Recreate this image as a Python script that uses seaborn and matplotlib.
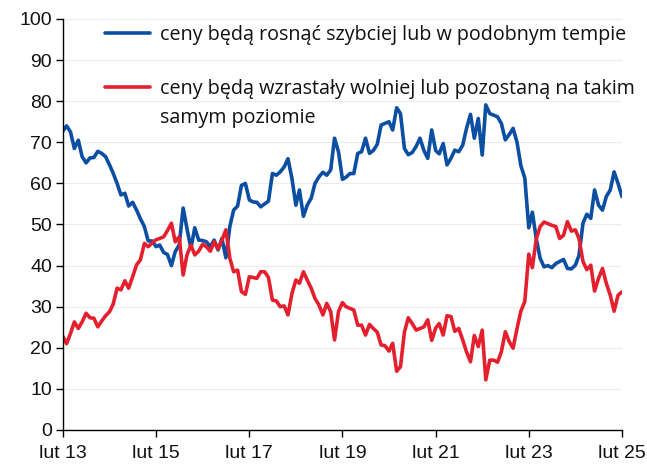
import numpy as np
import pandas as pd
import matplotlib
matplotlib.use("Agg")
import matplotlib.pyplot as plt
import seaborn as sns
from matplotlib.lines import Line2D

# ---- data ----
start_month = "2013-02-01"
blue_label = "ceny będą rosnąć szybciej lub w podobnym tempie"
red_label_l1 = "ceny będą wzrastały wolniej lub pozostaną na takim"
red_label_l2 = "samym poziomie"

blue_values = [
    72.8, 74.0, 72.5, 68.5, 70.5, 66.5, 65.0, 66.2, 66.3, 67.8, 67.3, 66.5,
    64.5, 62.5, 60.0, 57.2, 57.6, 54.5, 55.4, 53.5, 51.4, 49.5, 46.0, 46.0,
    44.6, 45.0, 43.2, 42.7, 40.0, 43.4, 45.0, 54.0, 49.0, 44.2, 49.2, 46.2,
    46.1, 45.8, 44.6, 46.2, 43.8, 46.6, 41.9, 49.5, 53.5, 54.5, 59.5, 60.0,
    56.0, 55.5, 55.4, 54.3, 55.0, 55.7, 62.4, 62.0, 62.8, 64.0, 66.0, 61.2,
    54.7, 58.4, 52.0, 54.7, 56.4, 60.0, 61.6, 62.7, 62.0, 63.3, 71.0, 67.7,
    61.0, 61.5, 62.4, 62.4, 67.3, 67.7, 71.0, 67.3, 68.0, 69.5, 74.2, 74.6,
    75.0, 73.0, 78.4, 77.0, 68.5, 67.0, 67.5, 69.0, 71.0, 68.0, 66.1, 73.0,
    68.0, 67.2, 69.7, 64.5, 66.1, 68.1, 67.7, 69.3, 73.4, 76.8, 71.0, 75.8,
    66.9, 79.1, 77.0, 76.6, 76.2, 74.6, 70.6, 71.9, 73.4, 70.0, 64.3, 61.3,
    49.2, 53.0, 46.5, 41.8, 39.7, 40.0, 39.5, 40.5, 41.0, 41.5, 39.3, 39.2,
    40.1, 42.5, 50.3, 52.5, 51.5, 58.4, 54.7, 53.5, 56.8, 58.4, 62.8, 60.0,
    56.8,
]
red_values = [
    22.7, 21.0, 23.5, 26.3, 24.7, 26.3, 28.4, 27.3, 27.2, 25.1, 26.5, 27.8,
    28.8, 30.6, 34.5, 34.1, 36.3, 34.5, 37.3, 40.2, 41.4, 45.4, 44.6, 45.5,
    46.3, 46.6, 47.0, 48.5, 50.3, 45.8, 47.0, 37.7, 42.6, 45.0, 42.6, 43.5,
    45.2, 44.6, 43.5, 45.8, 44.0, 46.2, 48.7, 41.8, 38.5, 38.9, 33.7, 33.0,
    37.3, 37.1, 36.9, 38.5, 38.5, 37.1, 31.6, 31.4, 30.0, 30.2, 28.0, 33.2,
    36.5, 35.7, 38.5, 36.5, 34.5, 32.0, 30.4, 28.0, 30.8, 28.8, 21.9, 28.8,
    31.0, 30.0, 29.6, 29.2, 25.5, 25.5, 23.1, 25.7, 24.7, 23.8, 20.7, 20.5,
    19.2, 21.1, 14.3, 15.4, 23.8, 27.3, 25.9, 24.3, 24.7, 25.1, 26.8, 21.8,
    24.8, 25.9, 23.1, 27.8, 27.6, 24.0, 24.7, 21.9, 19.0, 16.6, 23.0, 20.3,
    24.3, 12.2, 17.0, 17.0, 16.5, 19.0, 23.9, 21.5, 19.9, 24.7, 28.9, 31.3,
    42.8, 39.5, 46.5, 49.5, 50.6, 50.2, 49.8, 49.5, 46.6, 47.4, 50.7, 48.4,
    48.7, 46.6, 41.0, 39.0, 40.1, 33.8, 36.9, 39.3, 35.7, 32.8, 28.9, 32.8,
    33.6,
]
tick_labels = ["lut 13", "lut 15", "lut 17", "lut 19", "lut 21", "lut 23", "lut 25"]
y_ticks = list(range(0, 101, 10))

# ---- frame ----
dates = pd.date_range(start_month, periods=len(blue_values), freq="MS")
df = pd.concat([
    pd.DataFrame({"date": dates, "value": blue_values, "series": "blue"}),
    pd.DataFrame({"date": dates, "value": red_values, "series": "red"}),
])
tick_dates = pd.date_range(start_month, periods=len(tick_labels), freq="24MS")

BLUE = "#0B4EA2"
RED = "#E4202F"
LW = 2.6

sns.set_theme(style="white")
plt.rcParams["font.family"] = ["Liberation Sans", "DejaVu Sans"]

fig = plt.figure(figsize=(6.47, 4.66), dpi=100)
ax = fig.add_axes([63 / 647, 1 - 430 / 466, (622 - 63) / 647, (430 - 19) / 466])

sns.lineplot(data=df, x="date", y="value", hue="series",
             palette={"blue": BLUE, "red": RED}, linewidth=LW,
             ax=ax, legend=False)

ax.set_xlim(dates[0], dates[-1])
ax.set_ylim(0, 100)
ax.set_yticks(y_ticks)
ax.set_xticks(tick_dates)
ax.set_xticklabels(tick_labels)
ax.set_xlabel("")
ax.set_ylabel("")
ax.yaxis.grid(True, color="#ececec", linewidth=0.8)
ax.xaxis.grid(False)
for s in ["top", "right"]:
    ax.spines[s].set_visible(False)
for s in ["left", "bottom"]:
    ax.spines[s].set_color("black")
    ax.spines[s].set_linewidth(1.0)
ax.tick_params(axis="both", which="major", direction="out", length=5,
               width=1, color="black", labelsize=14, labelcolor="#111111", pad=3)
ax.tick_params(axis="x", pad=6)
ax.tick_params(axis="both", bottom=True, left=True)

# legend
FS = 14.2
handles = [Line2D([], [], color=BLUE, linewidth=LW),
           Line2D([], [], color=RED, linewidth=LW)]
leg = ax.legend(handles, [blue_label, red_label_l1],
                loc="upper left", bbox_to_anchor=(105 / 647, 1 - 25 / 466),
                bbox_transform=fig.transFigure, frameon=False,
                prop={"family": ["Open Sans", "DejaVu Sans"], "size": FS},
                handlelength=2.28, handletextpad=0.5, labelspacing=1.72,
                borderpad=0, borderaxespad=0)
for t in leg.get_texts():
    t.set_color("#111111")
fig.canvas.draw()
bb = leg.get_texts()[1].get_window_extent()
fig.text(bb.x0, bb.y0 - 29, red_label_l2, transform=None, ha="left", va="bottom",
         fontsize=FS, family=["Open Sans", "DejaVu Sans"], color="#111111")

fig.savefig("out.png", dpi=100)
